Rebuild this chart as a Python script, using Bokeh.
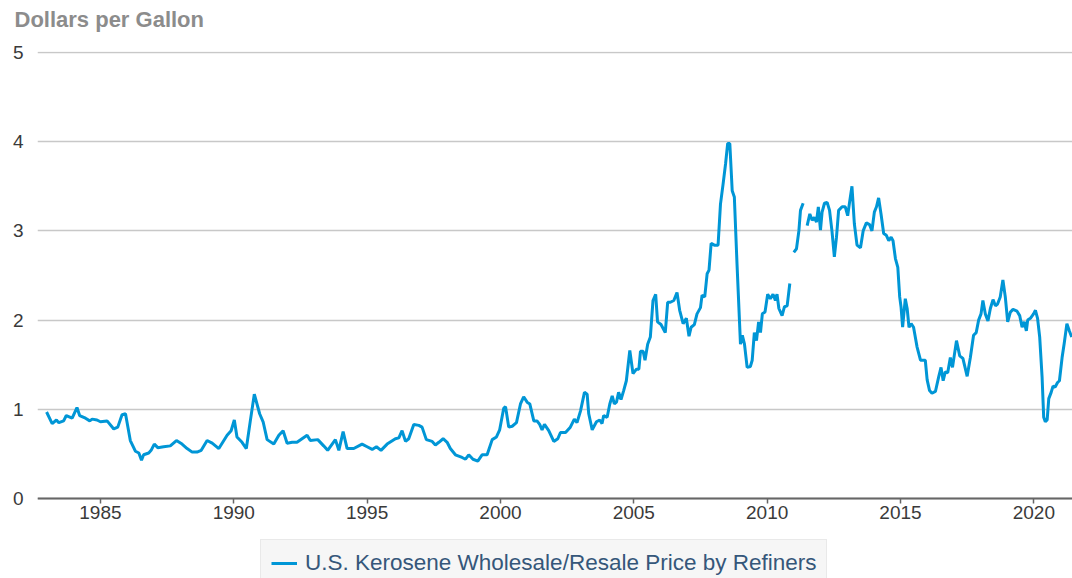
import math
from bokeh.plotting import figure
from bokeh.models import Range1d, FixedTicker, Legend, LegendItem, ColumnDataSource, Title
from bokeh.embed import file_html
from bokeh.resources import INLINE

NaN = float("nan")

# Decimal year and price (dollars per gallon)
years = [
    1982.98, 1983.19, 1983.35, 1983.44, 1983.62, 1983.72, 1983.94, 1984.12, 1984.22, 1984.44,
    1984.60, 1984.69, 1984.87, 1985.00, 1985.25, 1985.50, 1985.65, 1985.81, 1985.94, 1986.12,
    1986.31, 1986.44, 1986.54, 1986.62, 1986.81, 1986.90, 1987.02, 1987.15, 1987.37, 1987.62,
    1987.85, 1988.06, 1988.25, 1988.44, 1988.62, 1988.78, 1989.00, 1989.19, 1989.44, 1989.75,
    1989.90, 1990.02, 1990.12, 1990.31, 1990.47, 1990.62, 1990.77, 1990.97, 1991.10, 1991.25,
    1991.50, 1991.69, 1991.85, 1992.00, 1992.19, 1992.37, 1992.56, 1992.75, 1992.87, 1993.15,
    1993.37, 1993.52, 1993.81, 1993.94, 1994.10, 1994.25, 1994.50, 1994.81, 1995.00, 1995.19,
    1995.35, 1995.52, 1995.75, 1996.06, 1996.19, 1996.31, 1996.44, 1996.56, 1996.75, 1996.94,
    1997.06, 1997.22, 1997.44, 1997.56, 1997.69, 1997.85, 1998.00, 1998.12, 1998.31, 1998.56,
    1998.69, 1998.81, 1998.97, 1999.15, 1999.31, 1999.50, 1999.69, 1999.85, 1999.97, 2000.12,
    2000.19, 2000.31, 2000.44, 2000.60, 2000.75, 2000.87, 2001.00, 2001.10, 2001.25, 2001.37,
    2001.47, 2001.56, 2001.65, 2001.81, 2002.00, 2002.15, 2002.25, 2002.44, 2002.62, 2002.77,
    2002.87, 2003.00, 2003.15, 2003.25, 2003.31, 2003.44, 2003.60, 2003.72, 2003.81, 2003.87,
    2004.00, 2004.10, 2004.19, 2004.27, 2004.35, 2004.43, 2004.52, 2004.62, 2004.72, 2004.85,
    2004.97, 2005.10, 2005.19, 2005.25, 2005.35, 2005.42, 2005.52, 2005.62, 2005.72, 2005.82,
    2005.89, 2006.02, 2006.18, 2006.27, 2006.37, 2006.50, 2006.62, 2006.72, 2006.85, 2006.97,
    2007.07, 2007.15, 2007.27, 2007.37, 2007.50, 2007.56, 2007.66, 2007.75, 2007.82, 2007.90,
    2008.02, 2008.16, 2008.25, 2008.35, 2008.44, 2008.52, 2008.60, 2008.69, 2008.77, 2008.87,
    2009.00, 2009.07, 2009.15, 2009.25, 2009.37, 2009.44, 2009.52, 2009.60, 2009.68, 2009.75,
    2009.82, 2009.92, 2010.02, 2010.12, 2010.22, 2010.31, 2010.37, 2010.44, 2010.56, 2010.65,
    2010.75, 2010.85, 2010.92, 2011.00, 2011.10, 2011.19, 2011.25, 2011.35, 2011.42, 2011.50,
    2011.60, 2011.69, 2011.77, 2011.85, 2011.92, 2012.00, 2012.06, 2012.15, 2012.25, 2012.34,
    2012.43, 2012.52, 2012.60, 2012.68, 2012.81, 2012.93, 2013.02, 2013.09, 2013.18, 2013.27,
    2013.37, 2013.50, 2013.60, 2013.72, 2013.84, 2013.93, 2014.02, 2014.10, 2014.18, 2014.27,
    2014.37, 2014.47, 2014.56, 2014.65, 2014.72, 2014.81, 2014.90, 2014.97, 2015.02, 2015.08,
    2015.18, 2015.25, 2015.32, 2015.40, 2015.49, 2015.62, 2015.75, 2015.87, 2015.93, 2016.00,
    2016.09, 2016.18, 2016.31, 2016.43, 2016.52, 2016.60, 2016.68, 2016.77, 2016.87, 2016.95,
    2017.10, 2017.22, 2017.34, 2017.50, 2017.62, 2017.74, 2017.84, 2017.93, 2018.02, 2018.09,
    2018.18, 2018.28, 2018.37, 2018.47, 2018.56, 2018.64, 2018.74, 2018.84, 2018.93, 2019.02,
    2019.12, 2019.22, 2019.37, 2019.47, 2019.56, 2019.64, 2019.72, 2019.77, 2019.87, 2019.99,
    2020.06, 2020.14, 2020.22, 2020.31, 2020.37, 2020.43, 2020.50, 2020.56, 2020.65, 2020.72,
    2020.80, 2020.89, 2020.96, 2021.06, 2021.14, 2021.24, 2021.33, 2021.42,
]

prices = [
    0.97, 0.84, 0.88, 0.85, 0.87, 0.93, 0.90, 1.02, 0.93, 0.90,
    0.87, 0.89, 0.88, 0.86, 0.87, 0.78, 0.80, 0.94, 0.95, 0.65,
    0.53, 0.51, 0.43, 0.49, 0.51, 0.54, 0.61, 0.57, 0.58, 0.59,
    0.65, 0.61, 0.56, 0.52, 0.52, 0.54, 0.65, 0.62, 0.56, 0.71,
    0.76, 0.88, 0.69, 0.63, 0.56, 0.87, 1.17, 0.95, 0.86, 0.66,
    0.61, 0.71, 0.76, 0.62, 0.63, 0.63, 0.67, 0.71, 0.65, 0.66,
    0.59, 0.54, 0.66, 0.54, 0.75, 0.56, 0.56, 0.61, 0.58, 0.55,
    0.58, 0.54, 0.61, 0.67, 0.68, 0.76, 0.64, 0.67, 0.83, 0.82,
    0.80, 0.66, 0.64, 0.60, 0.63, 0.67, 0.63, 0.56, 0.49, 0.46,
    0.44, 0.49, 0.44, 0.42, 0.49, 0.49, 0.66, 0.69, 0.77, 1.01,
    1.03, 0.80, 0.81, 0.85, 1.06, 1.14, 1.08, 1.06, 0.87, 0.87,
    0.83, 0.77, 0.83, 0.76, 0.64, 0.67, 0.74, 0.74, 0.80, 0.89,
    0.85, 0.98, 1.19, 1.17, 0.95, 0.77, 0.86, 0.88, 0.84, 0.93,
    0.91, 1.06, 1.15, 1.06, 1.08, 1.19, 1.11, 1.21, 1.32, 1.66,
    1.40, 1.45, 1.45, 1.65, 1.65, 1.55, 1.73, 1.81, 2.22, 2.29,
    1.98, 1.95, 1.86, 2.20, 2.20, 2.22, 2.31, 2.11, 1.96, 2.02,
    1.82, 1.92, 1.95, 2.07, 2.14, 2.28, 2.26, 2.52, 2.56, 2.86,
    2.84, 2.84, 3.30, 3.53, 3.75, 3.98, 3.98, 3.45, 3.38, 2.63,
    1.73, 1.83, 1.73, 1.47, 1.48, 1.55, 1.86, 1.77, 1.98, 1.86,
    2.07, 2.09, 2.29, 2.24, 2.29, 2.22, 2.29, 2.13, 2.05, 2.15,
    2.16, 2.41, NaN, 2.76, 2.80, 3.00, 3.23, 3.31, NaN, 3.06,
    3.19, 3.12, 3.15, 3.10, 3.27, 3.01, 3.21, 3.31, 3.32, 3.23,
    3.00, 2.71, 2.93, 3.23, 3.27, 3.27, 3.17, 3.32, 3.50, 3.08,
    2.84, 2.81, 3.00, 3.09, 3.07, 3.00, 3.21, 3.27, 3.37, 3.19,
    2.97, 2.95, 2.89, 2.93, 2.89, 2.69, 2.59, 2.26, 2.15, 1.92,
    2.24, 2.13, 1.92, 1.96, 1.92, 1.70, 1.55, 1.55, 1.55, 1.33,
    1.21, 1.18, 1.20, 1.36, 1.47, 1.32, 1.42, 1.41, 1.58, 1.47,
    1.77, 1.60, 1.57, 1.37, 1.58, 1.83, 1.86, 2.00, 2.07, 2.22,
    2.07, 1.99, 2.13, 2.23, 2.16, 2.18, 2.26, 2.45, 2.26, 1.98,
    2.09, 2.12, 2.10, 2.05, 1.92, 1.98, 1.88, 2.00, 2.02, 2.07,
    2.11, 2.02, 1.81, 1.36, 0.91, 0.86, 0.88, 1.12, 1.19, 1.26,
    1.25, 1.30, 1.32, 1.58, 1.74, 1.96, 1.88, 1.81,
]

x_ticks = [1985, 1990, 1995, 2000, 2005, 2010, 2015, 2020]
y_ticks = [0, 1, 2, 3, 4, 5]
series_name = "U.S. Kerosene Wholesale/Resale Price by Refiners"
axis_title = "Dollars per Gallon"

FONT = "Liberation Sans"

source = ColumnDataSource(data=dict(year=years, price=prices))

# frame spans from just above the 5-line down to the bottom of the window;
# the area below 0 holds the x axis labels and the legend
p = figure(
    frame_width=1035, frame_height=527,
    output_backend="svg", toolbar_location=None,
    x_range=Range1d(1982.64, 2021.45), y_range=Range1d(-0.8969, 5.0112),
    min_border_left=37, min_border_right=0, min_border_top=51, min_border_bottom=0,
    background_fill_color="white", border_fill_color="white",
)
p.outline_line_color = None

# thin spacer panel between the frame and the title
p.add_layout(Title(text=" ", text_font_size="2px", standoff=9), "above")

p.title.text = axis_title
p.title.align = "left"
p.title.vertical_align = "top"
p.title.offset = -23
p.title.standoff = 10
p.title.text_font = FONT
p.title.text_font_size = "22px"
p.title.text_font_style = "bold"
p.title.text_color = "#8c8c8c"

r = p.line("year", "price", source=source, line_color="#0096d6", line_width=3)

# x axis, drawn at y = 0
xa = p.xaxis[0]
xa.fixed_location = 0
xa.ticker = FixedTicker(ticks=x_ticks)
xa.axis_line_color = "#666666"
xa.axis_line_width = 2
xa.major_tick_line_color = "#666666"
xa.major_tick_line_width = 1.5
xa.major_tick_out = 5
xa.major_tick_in = 0
xa.minor_tick_line_color = None
xa.minor_tick_out = 0
xa.major_label_standoff = 3
xa.major_label_text_font = FONT
xa.major_label_text_font_size = "19px"
xa.major_label_text_color = "#3a3a3a"

# y axis
ya = p.yaxis[0]
ya.ticker = FixedTicker(ticks=y_ticks)
ya.axis_line_color = None
ya.major_tick_line_color = None
ya.minor_tick_line_color = None
ya.major_tick_out = 0
ya.minor_tick_out = 0
ya.major_label_standoff = 14
ya.major_label_text_font = FONT
ya.major_label_text_font_size = "19px"
ya.major_label_text_color = "#3a3a3a"

p.xgrid.grid_line_color = None
p.ygrid.ticker = FixedTicker(ticks=y_ticks)
p.ygrid.grid_line_color = "#c8c8c8"
p.ygrid.grid_line_width = 1.5

legend = Legend(
    items=[LegendItem(label=series_name, renderers=[r])],
    orientation="horizontal", location=(223, -9),
    label_text_font=FONT, label_text_font_size="22.5px", label_text_color="#35577a",
    glyph_width=26, label_standoff=8, padding=10, margin=0,
    background_fill_color="#f6f6f6", background_fill_alpha=1.0,
    border_line_color="#dcdcdc", border_line_width=1,
)
p.add_layout(legend, "center")

open("out.html", "w").write(file_html(p, INLINE))
